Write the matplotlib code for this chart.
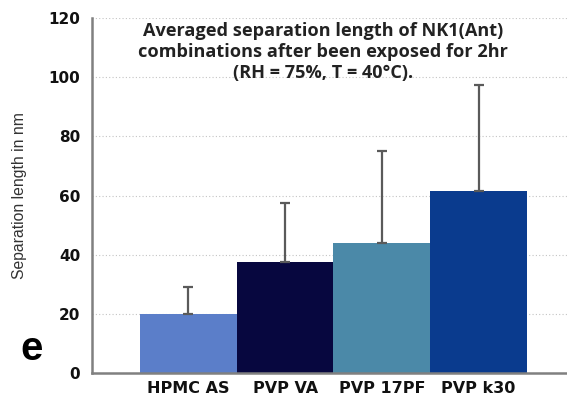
import matplotlib
matplotlib.use("Agg")
import matplotlib.pyplot as plt

categories = ["HPMC AS", "PVP VA", "PVP 17PF", "PVP k30"]
means = [20.0, 37.5, 44.0, 61.5]
errors = [9.0, 20.0, 31.0, 36.0]
colors = ["#5b7ec9", "#07073f", "#4b89a8", "#0a3b8e"]
yticks = [0, 20, 40, 60, 80, 100, 120]
title = "Averaged separation length of NK1(Ant)\ncombinations after been exposed for 2hr\n(RH = 75%, T = 40\u00b0C)."

fig = plt.figure(figsize=(5.67, 3.96), dpi=100)
ax = fig.add_axes([92/567, 23/396, 1 - 92/567, (373-18)/396])

x = list(range(len(categories)))
ax.bar(x, means, width=1.0, color=colors, zorder=2,
       yerr=[[0]*len(errors), errors], ecolor="#5a5a5a",
       error_kw=dict(elinewidth=1.6, capsize=3.5, capthick=1.6))

ax.set_xlim(-0.5 - 48/97, 3.5 + 40/97)
ax.set_ylim(0, 120)
ax.set_yticks(yticks)
ax.set_yticklabels([str(v) for v in yticks], fontfamily="DejaVu Sans",
                   fontweight="bold", fontsize=11, color="#111111")
ax.set_xticks(x)
ax.set_xticklabels(categories, fontfamily="DejaVu Sans", fontweight="bold",
                   fontsize=11.5, color="#111111")
ax.tick_params(axis="both", length=0)
ax.tick_params(axis="x", pad=5.5)
ax.tick_params(axis="y", pad=8.5)

ax.yaxis.grid(True, linestyle=(0, (1, 2)), color="#c4c4c4", linewidth=0.8, zorder=0)
ax.set_axisbelow(True)

for s in ["top", "right"]:
    ax.spines[s].set_visible(False)
for s in ["left", "bottom"]:
    ax.spines[s].set_color("#808080")
    ax.spines[s].set_linewidth(1.8)

ax.set_ylabel("Separation length in nm", fontfamily="Liberation Sans",
              fontsize=11.3, color="#333333")
ax.yaxis.set_label_coords(-(92 - 27) / 475, 0.5)

ax.text((323 - 92) / 475, 0.988, title, transform=ax.transAxes, ha="center", va="top",
        fontfamily="Open Sans", fontweight="bold", fontsize=13.1, linespacing=1.22,
        color="#222222")

fig.text(32/567, 1 - 349/396, "e", fontfamily="Liberation Sans", fontweight="bold",
         fontsize=29, ha="center", va="center")

fig.savefig("out.png", dpi=100)
